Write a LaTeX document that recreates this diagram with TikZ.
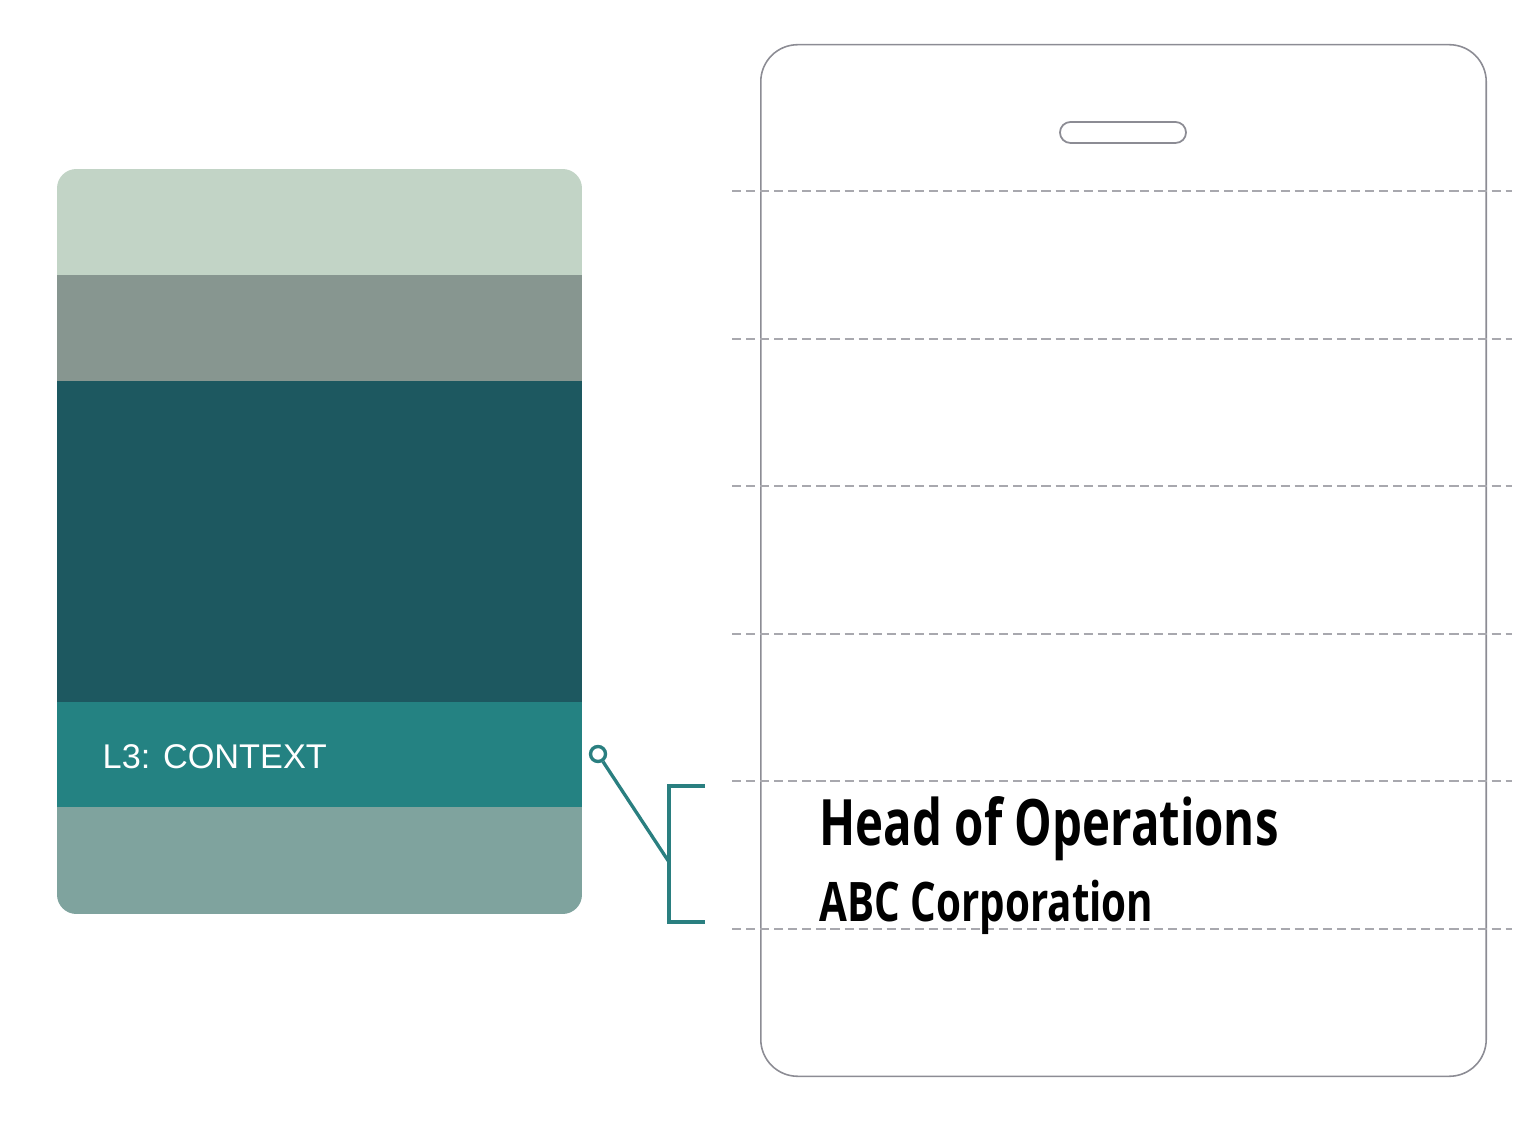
\documentclass[tikz,border=0pt]{standalone}
\usepackage{fontspec}
\setmainfont{Liberation Sans}
\newfontfamily\badgefont[FakeStretch=0.74]{Open Sans Bold}
\definecolor{bandA}{HTML}{C2D4C6}
\definecolor{bandB}{HTML}{879690}
\definecolor{bandC}{HTML}{1D5860}
\definecolor{bandD}{HTML}{248282}
\definecolor{bandE}{HTML}{7FA39E}
\definecolor{tealline}{HTML}{2A7F80}
\definecolor{badgeline}{HTML}{8C8C94}
\definecolor{dashline}{HTML}{A8A8AE}
\tikzset{
  cutline/.style={draw=dashline, line width=0.35pt, dash pattern=on 2.6pt off 1.4pt},
  tealconn/.style={draw=tealline, line width=0.95pt},
  badgetext/.style={anchor=base west, inner sep=0pt, text=black},
}
\begin{document}
\begin{tikzpicture}[x=0.01cm,y=-0.01cm]
\useasboundingbox (0,0) rectangle (1536,1122);
% left card
\begin{scope}
\clip[rounded corners=5.5pt] (57,169) rectangle (582,914);
\fill[bandA] (57,169) rectangle (582,275);
\fill[bandB] (57,275) rectangle (582,381);
\fill[bandC] (57,381) rectangle (582,702);
\fill[bandD] (57,702) rectangle (582,807);
\fill[bandE] (57,807) rectangle (582,914);
\end{scope}
\node[anchor=base west, inner sep=0pt, text=white, font=\fontsize{9.75}{12}\selectfont] (lbl) at (102,768) {L3: CONTEXT};
% badge
\node[draw=badgeline, line width=0.45pt, rounded corners=10.5pt, minimum width=7.25cm, minimum height=10.31cm, inner sep=0pt] (badge) at (1123.5,560.5) {};
\node[draw=badgeline, line width=0.5pt, rounded corners=3pt, minimum width=1.26cm, minimum height=0.21cm, inner sep=0pt] (slot) at (1123,132.5) {};
% dashed lines
\foreach \yy in {191,339,486,634,781,929} {
  \draw[cutline] (732,\yy) -- (1512,\yy);
}
% text
\node[badgetext, font=\badgefont\fontsize{18.2}{20}\selectfont] (title) at (819,846) {Head of Operations};
\node[badgetext, font=\badgefont\fontsize{15.5}{18}\selectfont] (org) at (819,922) {ABC Corporation};
% connector
\node[circle, draw=tealline, fill=white, line width=0.95pt, minimum size=0.15cm, inner sep=0pt] (dot) at (598,754) {};
\coordinate (btop) at (705,786);
\coordinate (bmid) at (669,862);
\coordinate (bbot) at (705,922);
\draw[tealconn] (btop) -- (669,786) -- (669,922) -- (bbot);
\draw[tealconn] (dot) -- (bmid);
\end{tikzpicture}
\end{document}
